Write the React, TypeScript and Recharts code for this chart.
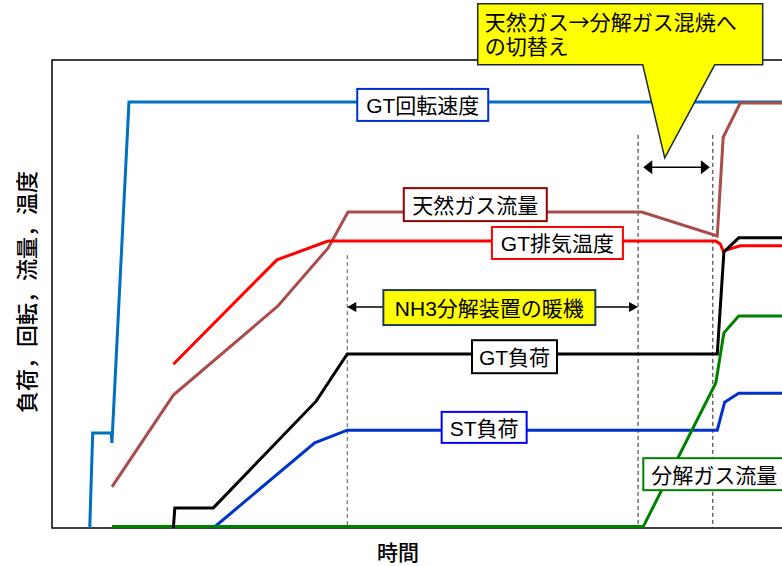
import React from 'react'
import { LineChart, Line, XAxis, YAxis, ReferenceArea, ReferenceLine, ReferenceDot } from 'recharts'

// time axis 0..100, value axis 0..100 (no ticks in the original)
const speedT = [5.1, 5.5, 8.0, 8.1, 10.4, 100]
const speedV = [0, 20.3, 20.3, 18.2, 91.0, 91.0]

const gasT = [8.1, 16.4, 30.5, 37.3, 40.0, 79.7, 89.9, 90.7, 93.0, 100]
const gasV = [8.8, 28.4, 47.4, 59.8, 67.5, 67.5, 62.4, 83.5, 90.8, 90.8]

const exhaustT = [16.4, 30.4, 37.3, 89.7, 90.3, 90.7, 93.0, 100]
const exhaustV = [35.0, 57.3, 61.3, 61.3, 60.7, 59.2, 60.3, 60.3]

const gtLoadT = [16.4, 16.6, 21.8, 35.7, 39.9, 89.9, 90.8, 92.8, 100]
const gtLoadV = [0, 4.3, 4.3, 27.1, 37.2, 37.2, 59.0, 62.0, 62.0]

const stLoadT = [21.8, 35.5, 39.9, 89.9, 90.9, 92.8, 100]
const stLoadV = [0, 18.2, 20.9, 20.9, 26.9, 28.8, 28.8]

const crackT = [8.1, 79.9, 89.7, 90.8, 92.8, 100]
const crackV = [0.3, 0.3, 31.0, 41.7, 45.3, 45.3]

const seriesNames = ['GT回転速度', '天然ガス流量', 'GT排気温度', 'GT負荷', 'ST負荷', '分解ガス流量']

const zip = (t: number[], v: number[]) => t.map((x, i) => ({ t: x, v: v[i] }))

const FONT = "'Liberation Sans', 'Noto Sans CJK JP', sans-serif"
const CJK = "'Noto Sans CJK JP', sans-serif"

type BoxProps = { cx?: number; cy?: number; text: string; w: number; h: number; stroke: string; fill?: string }

const LabelBox = ({ cx = 0, cy = 0, text, w, h, stroke, fill = '#fff' }: BoxProps) => (
  <g>
    <rect x={cx - w / 2} y={cy - h / 2} width={w} height={h} fill={fill} stroke={stroke} strokeWidth={2} />
    <text x={cx} y={cy + 1} textAnchor="middle" dominantBaseline="central" fontSize={21} fontFamily={FONT} fill="#000">
      {text}
    </text>
  </g>
)

const arrowShape = (head: number, half: number) => (p: any) => {
  const { x1, y1, x2, y2 } = p
  const y = y1
  const a = Math.min(x1, x2)
  const b = Math.max(x1, x2)
  return (
    <g>
      <line x1={a + head - 1} y1={y} x2={b - head + 1} y2={y2} stroke="#000" strokeWidth={1.5} />
      <polygon points={`${a},${y} ${a + head},${y - half} ${a + head},${y + half}`} fill="#000" />
      <polygon points={`${b},${y} ${b - head},${y - half} ${b - head},${y + half}`} fill="#000" />
    </g>
  )
}

const Callout = ({ cx = 0, cy = 0 }: { cx?: number; cy?: number }) => {
  const d = `M ${cx - 187} ${cy - 154} L ${cx + 98} ${cy - 154} L ${cx + 98} ${cy - 93} L ${cx + 50} ${cy - 93} L ${cx} ${cy} L ${cx - 22} ${cy - 93} L ${cx - 187} ${cy - 93} Z`
  return (
    <g>
      <path d={d} fill="#ffff00" stroke="#1c2a3c" strokeWidth={1.5} />
      <text fontSize={21} fontFamily={CJK} fill="#000">
        <tspan x={cx - 180} y={cy - 128}>天然ガス→分解ガス混焼へ</tspan>
        <tspan x={cx - 180} y={cy - 104}>の切替え</tspan>
      </text>
    </g>
  )
}

export default function App() {
  const lines = [
    { name: seriesNames[0], data: zip(speedT, speedV), color: '#0070c0' },
    { name: seriesNames[1], data: zip(gasT, gasV), color: '#a84d4a' },
    { name: seriesNames[2], data: zip(exhaustT, exhaustV), color: '#ff0000' },
    { name: seriesNames[4], data: zip(stLoadT, stLoadV), color: '#0033cc' },
    { name: seriesNames[5], data: zip(crackT, crackV), color: '#008000' },
    { name: seriesNames[3], data: zip(gtLoadT, gtLoadV), color: '#000000' },
  ]

  return (
    <div style={{ position: 'fixed', left: 0, top: 0, width: 782, height: 566, overflow: 'hidden', background: '#fff', fontFamily: CJK }}>
      <LineChart width={800} height={566} margin={{ top: 60, right: 8, bottom: 38, left: 52 }}>
        <XAxis type="number" dataKey="t" domain={[0, 100]} hide />
        <YAxis type="number" dataKey="v" domain={[0, 100]} hide />
        <ReferenceArea x1={0} x2={100} y1={0} y2={100} fill="none" stroke="#000" strokeWidth={1.5} fillOpacity={0} ifOverflow="visible" />

        <ReferenceLine segment={[{ x: 39.9, y: 58.3 }, { x: 39.9, y: 0 }]} stroke="#555" strokeDasharray="4 3" strokeWidth={1} />
        <ReferenceLine segment={[{ x: 79.2, y: 84.0 }, { x: 79.2, y: 0 }]} stroke="#222" strokeDasharray="4 3" strokeWidth={1} />
        <ReferenceLine segment={[{ x: 89.3, y: 84.0 }, { x: 89.3, y: 0 }]} stroke="#222" strokeDasharray="4 3" strokeWidth={1} />

        {lines.map((l) => (
          <Line
            key={l.name}
            name={l.name}
            data={l.data}
            dataKey="v"
            type="linear"
            stroke={l.color}
            strokeWidth={3}
            dot={false}
            activeDot={false}
            isAnimationActive={false}
          />
        ))}

        <ReferenceLine segment={[{ x: 39.9, y: 47.2 }, { x: 79.2, y: 47.2 }]} shape={arrowShape(9, 5)} />
        <ReferenceLine segment={[{ x: 79.9, y: 77.1 }, { x: 88.9, y: 77.1 }]} shape={arrowShape(9, 7)} />

        <ReferenceDot x={50.1} y={90.4} shape={(p: any) => <LabelBox {...p} text={seriesNames[0]} w={131} h={32} stroke="#0033cc" />} />
        <ReferenceDot x={57.2} y={69.1} shape={(p: any) => <LabelBox {...p} text={seriesNames[1]} w={143} h={33} stroke="#990000" />} />
        <ReferenceDot x={68.3} y={60.9} shape={(p: any) => <LabelBox {...p} text={seriesNames[2]} w={131} h={32} stroke="#ff0000" />} />
        <ReferenceDot x={62.5} y={36.6} shape={(p: any) => <LabelBox {...p} text={seriesNames[3]} w={85} h={33} stroke="#000000" />} />
        <ReferenceDot x={58.4} y={21.5} shape={(p: any) => <LabelBox {...p} text={seriesNames[4]} w={85} h={31} stroke="#0000ff" />} />
        <ReferenceDot x={89.5} y={11.5} shape={(p: any) => <LabelBox {...p} text={seriesNames[5]} w={142} h={32} stroke="#008000" />} />
        <ReferenceDot x={59.1} y={47.1} shape={(p: any) => <LabelBox {...p} text="NH3分解装置の暖機" w={212} h={35} stroke="#1f3a5a" fill="#ffff00" />} />
        <ReferenceDot x={82.8} y={79.1} shape={(p: any) => <Callout {...p} />} />
      </LineChart>

      <div style={{ position: 'absolute', left: 0, top: 537, width: 796, textAlign: 'center', fontSize: 21, lineHeight: '28px', color: '#000', fontWeight: 500 }}>
        時間
      </div>
      <div
        style={{
          position: 'absolute',
          left: 25,
          top: 292,
          transform: 'translate(-50%, -50%) rotate(-90deg)',
          whiteSpace: 'nowrap',
          fontSize: 22,
          lineHeight: '26px',
          color: '#000',
          fontWeight: 500,
        }}
      >
        負荷，回転，流量，温度
      </div>
    </div>
  )
}
